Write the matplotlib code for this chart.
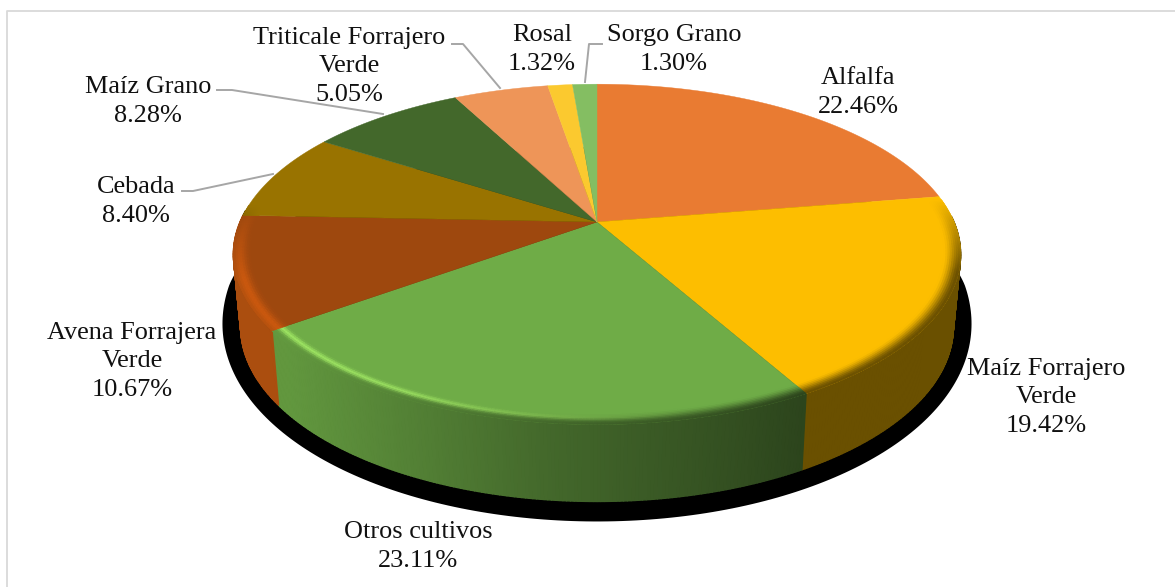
import numpy as np
import matplotlib
matplotlib.use("Agg")
import matplotlib.pyplot as plt
from matplotlib.collections import PolyCollection
from matplotlib.colors import to_rgb

# Chart data, clockwise from 12 o'clock
names = ["Alfalfa", "Maíz Forrajero\nVerde", "Otros cultivos", "Avena Forrajera\nVerde", "Cebada",
         "Maíz Grano", "Triticale Forrajero\nVerde", "Rosal", "Sorgo Grano"]
shares = [22.46, 19.42, 23.11, 10.67, 8.40, 8.28, 5.05, 1.32, 1.30]

top_colors = ["#E97B32", "#FDBE00", "#6FAC47", "#9E480E", "#997300", "#43682B", "#EE9558", "#FBC92F", "#84BE62"]

# label anchor: centre x, baseline of last line (pixels)
label_pos = [(858, 113), (1046, 432), (418, 567), (132, 396), (136, 222),
             (148, 122), (349, 101), (542, 70), (674, 70)]

leaders = [
    [(217, 90), (232, 90), (383, 114)],
    [(452, 44), (463, 44), (500, 88)],
    [(602, 44), (589, 44), (585, 82)],
    [(182, 191), (193, 191), (273, 174)],
]

# projection of the pie disc
APEX_X, APEX_Y = 597, 222
R, S, K = 357, 164, 0.19


def project(theta, r=1.0):
    u = r * np.sin(theta)
    v = r * np.cos(theta)
    f = 1 / (1 + K * v)
    return APEX_X + R * u * f, APEX_Y - S * v * f


def wall_bottom(theta):
    x, y = project(theta)
    v = np.cos(theta)
    return APEX_X + (x - APEX_X) * 0.98, y + 71 - 6 * np.minimum(v, 0)


def wall_shade(i, x):
    if i == 2:
        return np.interp(x, [285, 390, 553, 733, 800], [0.88, 0.77, 0.60, 0.46, 0.40])
    if i == 3:
        return 1.08
    return 0.42


fig = plt.figure(figsize=(11.75, 5.87), dpi=100)
ax = fig.add_axes([0, 0, 1, 1])
ax.set_xlim(0, 1175)
ax.set_ylim(587, 0)
ax.axis("off")

# outer frame, only left and top fall inside the picture
ax.plot([7, 7, 1175], [587, 10.5, 10.5], color="#D9D9D9", lw=1.3, zorder=1)

edges = np.radians(np.concatenate([[0], np.cumsum(shares)]) / np.sum(shares) * 360)

# shadow
th = np.linspace(0, 2 * np.pi, 400)
sx, sy = project(th)
sh_x = APEX_X + (sx - APEX_X) * 1.03
sh_y = sy + 63 - 34 * np.minimum(np.cos(th), 0)
ax.fill(sh_x, sh_y, color="black", lw=0, zorder=2)

# side wall, drawn as thin strips
quads, quad_colors = [], []
for i in range(len(shares)):
    a0, a1 = max(edges[i], np.radians(88)), min(edges[i + 1], np.radians(274))
    if a1 <= a0:
        continue
    grid = np.linspace(a0, a1, max(2, int(np.degrees(a1 - a0))) * 2)
    base = np.array(to_rgb(top_colors[i]))
    for t0, t1 in zip(grid[:-1], grid[1:]):
        x0, y0 = project(t0)
        x1, y1 = project(t1)
        x2, y2 = wall_bottom(t1)
        x3, y3 = wall_bottom(t0)
        quads.append([(x0, y0), (x1, y1), (x2, y2), (x3, y3)])
        quad_colors.append(np.clip(base * wall_shade(i, (x0 + x1) / 2), 0, 1))
ax.add_collection(PolyCollection(quads, facecolors=quad_colors, edgecolors=quad_colors, lw=1.0, zorder=3))

# top faces
for i in range(len(shares)):
    grid = np.linspace(edges[i], edges[i + 1], 120)
    x, y = project(grid)
    ax.fill(np.r_[APEX_X, x], np.r_[APEX_Y, y], color=top_colors[i], lw=0.3, zorder=4)

# bevel along the front rim
rings = np.linspace(0.955, 1.0, 9)
quads, quad_colors = [], []
for i in range(len(shares)):
    a0, a1 = max(edges[i], np.radians(82)), min(edges[i + 1], np.radians(276))
    if a1 <= a0:
        continue
    grid = np.linspace(a0, a1, max(2, int(np.degrees(a1 - a0))) * 2)
    base = np.array(to_rgb(top_colors[i]))
    for t0, t1 in zip(grid[:-1], grid[1:]):
        mid = (t0 + t1) / 2
        xm, _ = project(mid)
        fade = np.clip(min(np.degrees(mid) - 82, 276 - np.degrees(mid)) / 25, 0, 1)
        wall = np.clip(base * wall_shade(i, xm), 0, 1)
        for j, (r0, r1) in enumerate(zip(rings[:-1], rings[1:])):
            t = (j + 0.5) / (len(rings) - 1)
            s = (t * t * (3 - 2 * t)) * fade
            col = base * (1 - s) + wall * s
            if i == 2:
                # light catches the rim on the left of the big slice
                col = col + np.clip((700 - xm) / 300, 0, 1) * np.array([0.2, 0.25, 0.12]) * np.exp(-((t - 0.45) / 0.2) ** 2)
            if i == 3:
                col = col + np.array([0.14, 0.05, 0.0]) * np.exp(-((t - 0.6) / 0.35) ** 2) * fade
            col = np.clip(col, 0, 1)
            xa, ya = project(t0, r0)
            xb, yb = project(t1, r0)
            xc, yc = project(t1, r1)
            xd, yd = project(t0, r1)
            quads.append([(xa, ya), (xb, yb), (xc, yc), (xd, yd)])
            quad_colors.append(col)
ax.add_collection(PolyCollection(quads, facecolors=quad_colors, edgecolors=quad_colors, lw=0.5, zorder=5))

# leader lines
for pts in leaders:
    ax.plot([p[0] for p in pts], [p[1] for p in pts], color="#A6A6A6", lw=1.4, zorder=6)

# labels
for name, val, pos in zip(names, shares, label_pos):
    ax.text(pos[0], pos[1], f"{name}\n{val:.2f}%", ha="center", va="baseline", multialignment="center",
            family="Liberation Serif", fontsize=18.9, linespacing=1.39, color="#111111", zorder=7)

plt.savefig("out.png", dpi=100)
